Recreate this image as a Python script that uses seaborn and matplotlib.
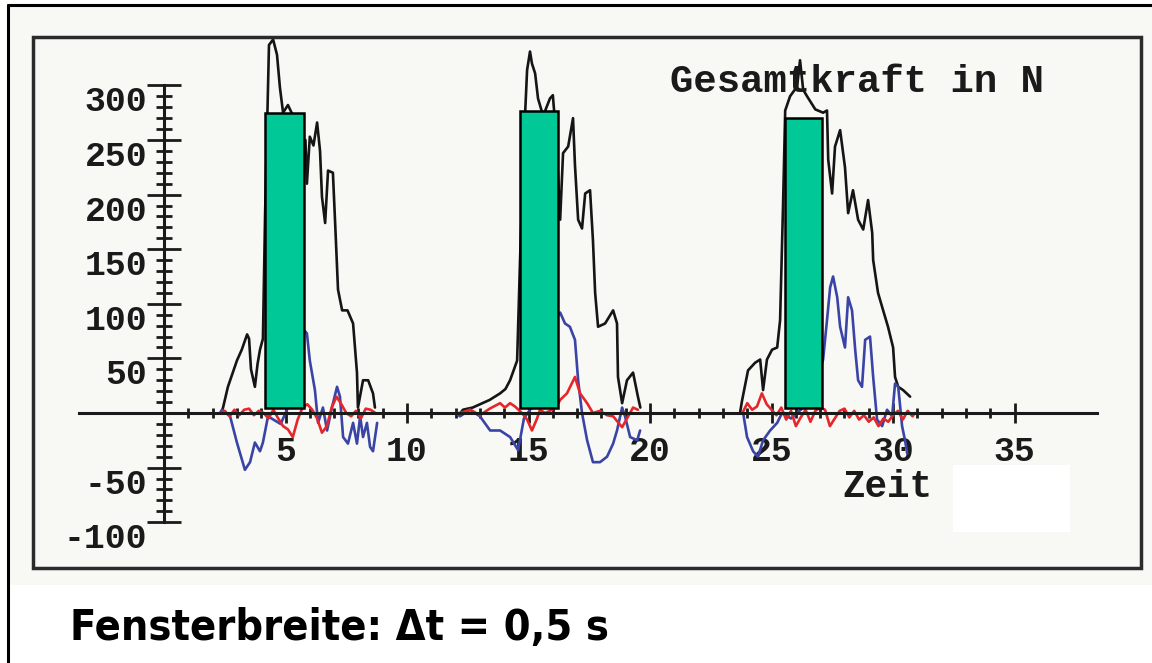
import matplotlib
matplotlib.use("Agg")
import matplotlib.pyplot as plt
import seaborn as sns
import pandas as pd
from matplotlib.patches import Rectangle
from matplotlib.lines import Line2D

# --- data (time in s, force in N) ---
bk_t1 = [2.35, 2.43, 2.63, 2.8, 3.0, 3.2, 3.42, 3.5, 3.58, 3.74, 3.85, 3.95, 4.07, 4.16, 4.32,
         4.49, 4.65, 4.77, 4.9, 5.1, 5.4, 5.7, 5.82, 5.88, 6.0, 6.15, 6.3, 6.42, 6.5, 6.63,
         6.75, 6.95, 7.04, 7.16, 7.33, 7.55, 7.78, 7.94, 7.98, 8.19, 8.4, 8.6, 8.68]
bk_v1 = [0, 5, 24, 35, 48, 58, 72, 68, 40, 24, 45, 58, 68, 183, 337,
         342, 328, 298, 275, 282, 268, 245, 250, 210, 253, 245, 266, 240, 198, 174,
         222, 220, 175, 113, 94, 94, 82, 37, 5, 30, 30, 18, 5]
bk_t2 = [12.2, 12.3, 12.7, 13.0, 13.4, 13.83, 14.05, 14.24, 14.53, 14.65, 14.81, 14.94, 15.06, 15.14,
         15.27, 15.39, 15.6, 15.88, 16.0, 16.13, 16.3, 16.42, 16.63, 16.83, 16.91, 17.04, 17.2, 17.33,
         17.53, 17.65, 17.74, 17.86, 18.15, 18.48, 18.64, 18.68, 18.85, 19.05, 19.3, 19.5, 19.6]
bk_v2 = [0, 3, 5, 8, 12, 18, 22, 30, 48, 140, 250, 314, 331, 320,
         311, 288, 272, 288, 291, 255, 177, 238, 244, 270, 227, 177, 169, 201,
         204, 158, 110, 79, 82, 94, 82, 33, 9, 30, 37, 15, 5]
bk_t3 = [23.7, 23.79, 24.03, 24.32, 24.53, 24.65, 24.81, 25.02, 25.23, 25.35, 25.47, 25.56, 25.76,
         26.05, 26.17, 26.3, 26.46, 26.8, 27.12, 27.28, 27.33, 27.49, 27.61, 27.82, 28.02, 28.15,
         28.35, 28.56, 28.77, 28.97, 29.14, 29.18, 29.38, 29.59, 29.79, 30.0, 30.08, 30.21, 30.41, 30.7]
bk_v3 = [0, 12, 39, 46, 49, 21, 49, 58, 60, 85, 189, 277, 290,
         299, 323, 296, 290, 278, 275, 277, 232, 201, 244, 259, 225, 183,
         204, 177, 168, 195, 165, 140, 110, 94, 79, 60, 33, 24, 21, 15]

bl_t1 = [2.3, 2.39, 2.72, 3.0, 3.33, 3.54, 3.74, 3.95, 4.07, 4.28, 4.5, 4.8, 5.1, 5.4, 5.65, 5.8,
         5.88, 6.0, 6.21, 6.34, 6.54, 6.71, 6.91, 7.12, 7.24, 7.37, 7.57, 7.78, 7.94, 8.07, 8.19,
         8.35, 8.48, 8.6, 8.77]
bl_v1 = [0, 3, -3, -27, -52, -45, -27, -35, -27, -3, -6, -10, 5, 35, 65, 75,
         73, 48, 21, -9, 5, -16, 5, 24, 15, -22, -28, -9, -28, -3, -22,
         -9, -31, -35, -9]
bl_t2 = [12.0, 12.18, 12.59, 13.0, 13.42, 13.83, 14.24, 14.57, 14.81, 15.06, 15.4, 15.8, 16.1, 16.3,
         16.5, 16.7, 16.91, 17.04, 17.2, 17.41, 17.65, 17.94, 18.23, 18.48, 18.64, 18.85, 18.97,
         19.18, 19.47, 19.59]
bl_v2 = [0, -3, 3, -3, -16, -16, -22, -34, -5, 3, 10, 50, 85, 92,
         82, 79, 67, 30, 0, -25, -45, -45, -40, -28, -16, 5, -3,
         -22, -25, -16]
bl_t3 = [23.7, 23.83, 23.99, 24.24, 24.44, 24.65, 24.94, 25.23, 25.43, 25.8, 26.3, 26.8, 27.12,
         27.28, 27.41, 27.53, 27.7, 27.82, 28.02, 28.15, 28.31, 28.44, 28.56, 28.72, 28.85, 29.05,
         29.18, 29.34, 29.55, 29.75, 29.96, 30.08, 30.21, 30.37, 30.49, 30.58]
bl_v3 = [0, 0, -22, -35, -40, -25, -16, -9, 0, -5, 5, 25, 49,
         85, 115, 125, 106, 79, 60, 106, 94, 58, 30, 24, 67, 70,
         33, -6, -12, 3, -3, 27, 24, -12, -25, -37]

rd_t1 = [2.3, 2.5, 2.7, 2.9, 3.1, 3.3, 3.5, 3.7, 3.9, 4.1, 4.3, 4.5, 4.7, 4.9, 5.1, 5.3, 5.5,
         5.7, 5.9, 6.1, 6.3, 6.5, 6.7, 6.9, 7.1, 7.3, 7.5, 7.7, 7.9, 8.1, 8.3, 8.5, 8.7]
rd_v1 = [0, 2, -3, 3, -2, 3, 4, -2, 2, 0, -5, 3, -5, -12, -15, -22, -6,
         5, 8, 3, -5, -18, -12, 5, 15, 8, 0, -3, 2, -5, 4, 3, 0]
rd_t2 = [12.0, 12.18, 12.6, 13.0, 13.4, 13.83, 14.03, 14.24, 14.44, 14.73, 14.94, 15.14, 15.35,
         15.47, 15.68, 15.88, 16.13, 16.3, 16.58, 16.91, 17.12, 17.41, 17.65, 17.94, 18.23, 18.48,
         18.85, 19.05, 19.3, 19.5]
rd_v2 = [0, 0, 3, -2, 4, 9, 5, 9, 6, 0, -6, -16, -5,
         3, 0, 2, 5, 12, 18, 33, 18, 9, 0, 2, -2, -3,
         -13, -5, 5, 3]
rd_t3 = [23.8, 24.0, 24.2, 24.4, 24.6, 24.8, 25.0, 25.2, 25.4, 25.6, 25.8, 26.0, 26.2, 26.4, 26.6,
         26.8, 27.0, 27.2, 27.4, 27.6, 27.8, 28.0, 28.2, 28.4, 28.6, 28.8, 29.0, 29.2, 29.4, 29.6,
         29.8, 30.0, 30.2, 30.4, 30.6, 30.8, 30.9]
rd_v3 = [0, 9, 3, 6, 18, 8, 3, -2, 5, -6, 2, -12, -4, 3, -8,
         2, 5, 3, -12, -5, 2, 4, -4, 2, -6, -2, -8, -4, -12, -5,
         -8, -2, 2, -6, 2, -3, 0]

# green measurement windows
win_center = [4.96, 15.43, 26.32]
win_width = [1.6, 1.56, 1.52]
win_bottom = [4.6, 4.6, 4.6]
win_top = [275, 277, 270]

x_major = [5, 10, 15, 20, 25, 30, 35]
x_labels = ["5", "10", "15", "20", "25", "30", "35"]
y_major = [-100, -50, 50, 100, 150, 200, 250, 300]
y_labels = ["-100", "-50", "50", "100", "150", "200", "250", "300"]

title = "Gesamtkraft in N"
xlabel = "Zeit"
caption = "Fensterbreite: \u0394t = 0,5 s"

# --- long table for seaborn ---
parts = []
for name, cyc, t, v in [("gesamt", 1, bk_t1, bk_v1), ("gesamt", 2, bk_t2, bk_v2), ("gesamt", 3, bk_t3, bk_v3),
                        ("blau", 1, bl_t1, bl_v1), ("blau", 2, bl_t2, bl_v2), ("blau", 3, bl_t3, bl_v3),
                        ("rot", 1, rd_t1, rd_v1), ("rot", 2, rd_t2, rd_v2), ("rot", 3, rd_t3, rd_v3)]:
    parts.append(pd.DataFrame({"t": t, "v": v, "series": name, "cycle": cyc}))
df = pd.concat(parts, ignore_index=True)

sns.set_style("white")
plt.rcParams["font.family"] = ["DejaVu Sans"]

W, H = 1152, 663
fx = lambda px: px / W
fy = lambda py: 1 - py / H

fig = plt.figure(figsize=(W / 100, H / 100), dpi=100)
fig.patch.set_facecolor("white")

# screenshot background and outer border
fig.patches.append(Rectangle((fx(8), fy(585)), fx(1152) - fx(8), fy(5) - fy(585),
                             transform=fig.transFigure, facecolor="#f8f8f5",
                             edgecolor="none", zorder=-10))
fig.add_artist(Line2D([fx(8), fx(8)], [fy(663), fy(5)], color="black", lw=2.2))
fig.add_artist(Line2D([fx(8), fx(1152)], [fy(5), fy(5)], color="black", lw=2.2))

ax = fig.add_axes([fx(33), fy(568), fx(1141) - fx(33), fy(37) - fy(568)])
ax.set_facecolor("none")

palette = {"gesamt": "#151515", "blau": "#3a44a6", "rot": "#e6262a"}
sns.lineplot(data=df, x="t", y="v", hue="series", units="cycle", estimator=None,
             sort=False, palette=palette, legend=False, lw=1.9, ax=ax, zorder=2)

ax.bar(win_center, [t - b for t, b in zip(win_top, win_bottom)], bottom=win_bottom,
       width=win_width, color="#00c896", edgecolor="black", linewidth=1.8, zorder=4)

ax.set_xlim(-5.39, 40.2)
ax.set_ylim(-141.9, 344.3)
ax.set_xlabel("")
ax.set_ylabel("")

# axes crossing at zero
for s in ["top", "right"]:
    ax.spines[s].set_visible(False)
ax.spines["left"].set_position(("data", 0))
ax.spines["bottom"].set_position(("data", 0))
ax.spines["left"].set_bounds(-100, 300)
ax.spines["bottom"].set_bounds(-3.5, 38.4)
for s in ["left", "bottom"]:
    ax.spines[s].set_linewidth(2.2)
    ax.spines[s].set_color("#1a1a1a")
    ax.spines[s].set_zorder(3)

tick_font = dict(fontfamily=["Liberation Mono", "DejaVu Sans Mono"], fontweight="bold",
                 fontsize=25, color="#1a1a1a")
ax.set_xticks(x_major, labels=x_labels, **tick_font)
ax.set_xticks(range(1, 35), minor=True)
ax.set_yticks(y_major, labels=y_labels, **tick_font)
ax.set_yticks(range(-100, 301, 10), minor=True)
for lab in ax.get_yticklabels():
    lab.set_va("top")

ax.tick_params(axis="both", which="both", bottom=True, left=True, top=False, right=False)
ax.tick_params(axis="y", which="major", direction="inout", length=24, width=2, pad=0, color="#1a1a1a")
ax.tick_params(axis="y", which="minor", direction="inout", length=12, width=2, color="#1a1a1a")
ax.tick_params(axis="x", which="major", direction="inout", length=14, width=2, pad=9, color="#1a1a1a")
ax.tick_params(axis="x", which="minor", direction="inout", length=7, width=2, color="#1a1a1a")

# inner frame
ax.add_patch(Rectangle((0, 0), 1, 1, transform=ax.transAxes, fill=False, lw=2.5,
                       edgecolor="#2b2b2b", clip_on=False, zorder=6))

mono = dict(family=["Liberation Mono", "DejaVu Sans Mono"], weight="bold", color="#1a1a1a")
fig.text(fx(670), fy(82), title, fontsize=28, va="center", ha="left", **mono)
fig.text(fx(842), fy(487), xlabel, fontsize=27, va="center", ha="left", **mono)

# white patch covering part of the screenshot
fig.patches.append(Rectangle((fx(953), fy(532)), fx(1070) - fx(953), fy(465) - fy(532),
                             transform=fig.transFigure, facecolor="white",
                             edgecolor="none", zorder=10))

fig.text(fx(70), fy(628), caption, fontsize=31, va="center", ha="left", weight="bold",
         stretch="condensed", family=["DejaVu Sans"], color="black")

fig.savefig("out.png", dpi=100)
